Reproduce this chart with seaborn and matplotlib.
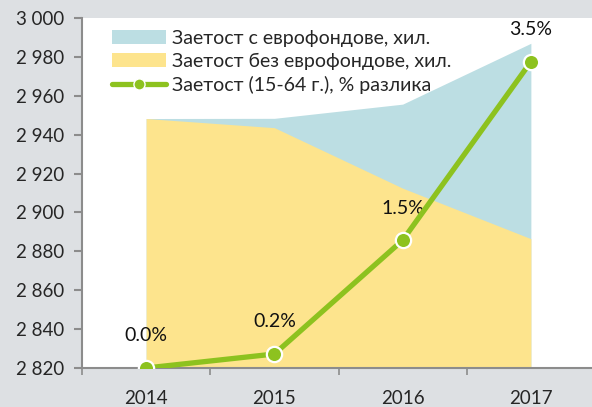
import numpy as np
import matplotlib as mpl
import seaborn as sns
from matplotlib import pyplot as plt
from matplotlib.ticker import FuncFormatter, FixedLocator

# data
years = ["2014", "2015", "2016", "2017"]
with_eu = [2948.3, 2948.4, 2955.7, 2987.0]      # Заетост с еврофондове, хил.
without_eu = [2948.3, 2943.6, 2912.5, 2886.5]   # Заетост без еврофондове, хил.
pct_diff = [0.0, 0.16, 1.46, 3.5]               # Заетост (15-64 г.), % разлика

label_with = "Заетост с еврофондове, хил."
label_without = "Заетост без еврофондове, хил."
label_pct = "Заетост (15-64 г.), % разлика"

sns.set_style("white")
plt.rcParams['font.family'] = ['Lato', 'Open Sans', 'DejaVu Sans']
mpl.rcParams['font.size'] = 13

blue = "#bcdee3"
yellow = "#fde48d"
green = "#8dc21f"
grey_bg = "#dde0e3"
axis_grey = "#8c8c8c"

fig = plt.figure(figsize=(5.92, 4.07), dpi=100, facecolor=grey_bg)
ax = fig.add_axes([82 / 592, 39 / 407, 513 / 592, 350 / 407])
ax.set_facecolor("white")

x = np.arange(len(years))
ax.fill_between(x, 2820, with_eu, color=blue, lw=0, label=label_with)
ax.fill_between(x, 2820, without_eu, color=yellow, lw=0, label=label_without)

ax.set_xlim(-0.5, 3.5)
ax.set_ylim(2820, 3000)
ax.set_yticks(np.arange(2820, 3001, 20))
ax.yaxis.set_major_formatter(FuncFormatter(lambda v, p: f"{int(v):,}".replace(",", " ")))
ax.set_xticks(x)
ax.set_xticklabels(years)
ax.xaxis.set_minor_locator(FixedLocator(np.arange(-0.5, 3.6, 1)))

for side in ["top", "right"]:
    ax.spines[side].set_visible(False)
for side in ["left", "bottom"]:
    ax.spines[side].set_color(axis_grey)
    ax.spines[side].set_linewidth(1.5)

ax.tick_params(axis="y", which="major", length=6, width=1.5, color=axis_grey,
               pad=7, labelsize=13.5, left=True)
ax.tick_params(axis="x", which="major", length=0, pad=16, labelsize=13.5)
ax.tick_params(axis="x", which="minor", length=5, width=1.2, color=axis_grey, bottom=True)

# percent line on a hidden second scale
ax2 = ax.twinx()
ax2.set_ylim(0, 4.0)
ax2.axis("off")
df_line = {"year": x, "pct": pct_diff}
sns.lineplot(x="year", y="pct", data=df_line, ax=ax2, color=green, lw=3.8,
             marker="o", markersize=11, markerfacecolor=green,
             markeredgecolor="white", markeredgewidth=1.6, label=label_pct,
             legend=False, zorder=5)
ax2.set_xlim(-0.5, 3.5)
for xi, v in zip(x, pct_diff):
    ax2.annotate(f"{v:.1f}%", (xi, v), xytext=(0, 17), textcoords="offset points",
                 ha="center", va="bottom", fontsize=14, color="#111111")

handles = ax.get_legend_handles_labels()[0] + ax2.get_lines()[:1]
labels = [label_with, label_without, label_pct]
leg = ax2.legend(handles, labels, loc="upper left", bbox_to_anchor=(0.035, 1.0),
                 frameon=False, fontsize=14, handlelength=2.8, handletextpad=0.3,
                 labelspacing=0.3, borderaxespad=0.2)
leg.get_lines()[0].set_markersize(8)
leg.get_lines()[0].set_markeredgewidth(1.0)

fig.savefig("out.png", dpi=100, facecolor=grey_bg)
